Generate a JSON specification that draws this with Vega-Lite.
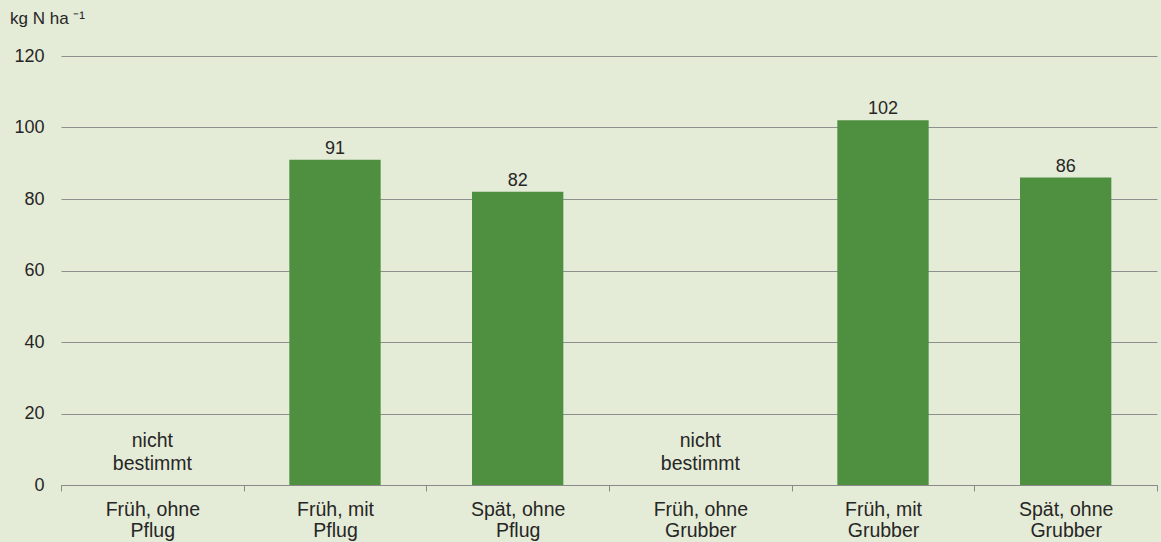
{
  "$schema": "https://vega.github.io/schema/vega-lite/v6.json",
  "width": 1096,
  "height": 429,
  "autosize": {"type": "none"},
  "padding": {"left": 61, "top": 56, "right": 4, "bottom": 57},
  "background": "#e4ebd6",
  "title": {
    "text": "kg N ha ⁻¹",
    "anchor": "start",
    "frame": "group",
    "dx": -51,
    "offset": 6,
    "baseline": "alphabetic",
    "font": "Liberation Sans",
    "fontSize": 17,
    "fontWeight": "normal",
    "color": "#262626"
  },
  "data": {
    "values": [
      {"Variante": "Früh, ohne Pflug", "N": null},
      {"Variante": "Früh, mit Pflug", "N": 91},
      {"Variante": "Spät, ohne Pflug", "N": 82},
      {"Variante": "Früh, ohne Grubber", "N": null},
      {"Variante": "Früh, mit Grubber", "N": 102},
      {"Variante": "Spät, ohne Grubber", "N": 86}
    ]
  },
  "encoding": {
    "x": {
      "field": "Variante",
      "type": "nominal",
      "sort": null,
      "scale": {
        "domain": ["Früh, ohne Pflug", "Früh, mit Pflug", "Spät, ohne Pflug", "Früh, ohne Grubber", "Früh, mit Grubber", "Spät, ohne Grubber"],
        "paddingInner": 0,
        "paddingOuter": 0
      },
      "axis": {
        "title": null,
        "labelAngle": 0,
        "tickBand": "extent",
        "ticks": true,
        "tickSize": 6,
        "tickColor": "#8a8a8a",
        "domainColor": "#8a8a8a",
        "labelPadding": 9,
        "labelFontSize": 19.5,
        "labelLineHeight": 21,
        "labelFont": "Liberation Sans",
        "labelColor": "#262626",
        "labelExpr": "[substring(datum.label, 0, lastindexof(datum.label, ' ')), substring(datum.label, lastindexof(datum.label, ' ') + 1)]"
      }
    }
  },
  "layer": [
    {
      "transform": [{"filter": "isValid(datum.N)"}],
      "mark": {"type": "bar", "color": "#4f9040", "width": {"band": 0.5}},
      "encoding": {
        "y": {
          "field": "N",
          "type": "quantitative",
          "scale": {"domain": [0, 120]},
          "axis": {
            "title": null,
            "values": [0, 20, 40, 60, 80, 100, 120],
            "domain": false,
            "ticks": false,
            "grid": true,
            "gridColor": "#8f8f8f",
            "labelPadding": 17,
            "labelFontSize": 18,
            "labelFont": "Liberation Sans",
            "labelColor": "#262626"
          }
        }
      }
    },
    {
      "transform": [{"filter": "isValid(datum.N)"}],
      "mark": {"type": "text", "baseline": "alphabetic", "dy": -6, "fontSize": 18, "font": "Liberation Sans", "color": "#262626"},
      "encoding": {
        "y": {"field": "N", "type": "quantitative"},
        "text": {"field": "N", "type": "quantitative"}
      }
    },
    {
      "transform": [{"filter": "!isValid(datum.N)"}],
      "mark": {"type": "text", "baseline": "alphabetic", "dy": -38, "lineBreak": "\n", "lineHeight": 23, "fontSize": 19.5, "font": "Liberation Sans", "color": "#262626"},
      "encoding": {
        "y": {"datum": 0, "type": "quantitative"},
        "text": {"value": "nicht\nbestimmt"}
      }
    }
  ],
  "config": {
    "view": {"stroke": null},
    "axis": {"gridWidth": 1}
  }
}
